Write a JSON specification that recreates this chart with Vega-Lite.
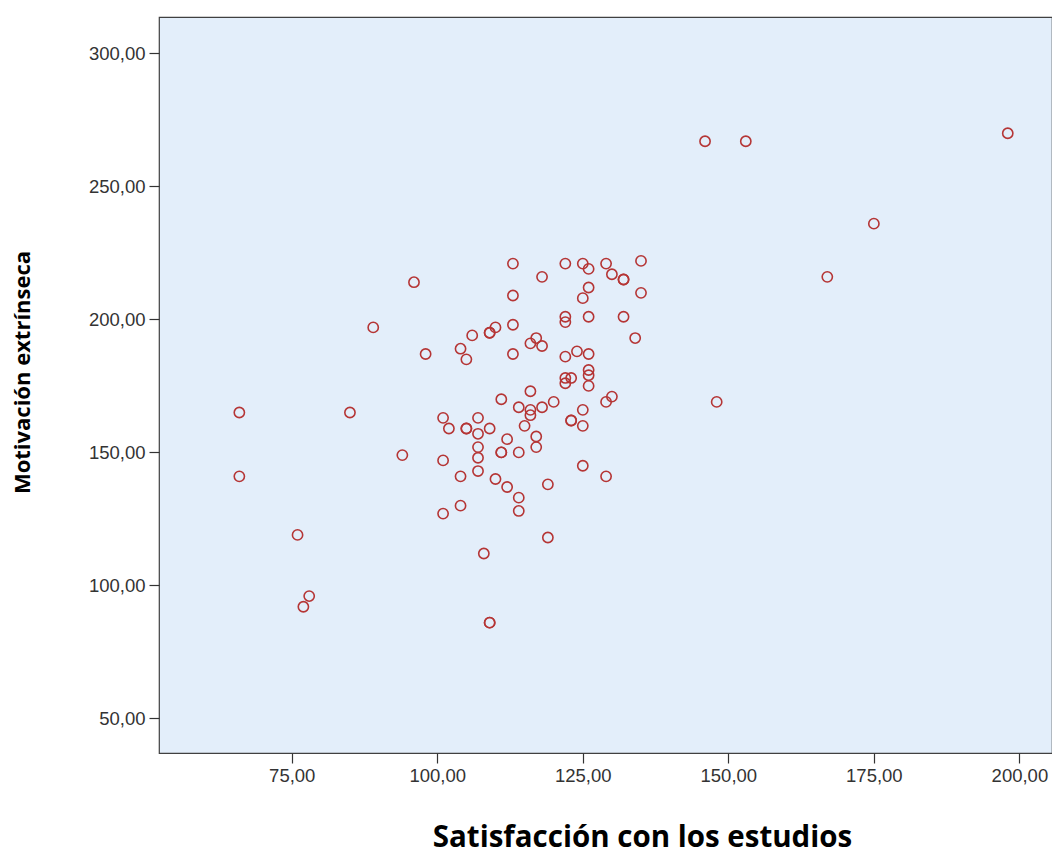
{
  "$schema": "https://vega.github.io/schema/vega-lite/v6.json",
  "autosize": {"type": "none"},
  "padding": {"left": 159, "top": 17, "right": 0, "bottom": 102},
  "width": 893,
  "height": 736,
  "background": "white",
  "config": {
    "view": {"fill": "#E3EEFA", "stroke": "#404040", "strokeWidth": 1.2},
    "axis": {
      "grid": false,
      "domain": false,
      "labelFont": "Liberation Sans",
      "labelFontSize": 18.5,
      "labelColor": "#333333",
      "tickColor": "#333333",
      "tickSize": 10,
      "tickWidth": 1.2,
      "titleFont": "Open Sans",
      "titleFontWeight": "bold",
      "titleColor": "#000000"
    }
  },
  "data": {
    "values": [
      {"sat": 66, "mot": 165}, {"sat": 66, "mot": 141}, {"sat": 76, "mot": 119}, {"sat": 78, "mot": 96},
      {"sat": 77, "mot": 92}, {"sat": 85, "mot": 165}, {"sat": 89, "mot": 197}, {"sat": 94, "mot": 149},
      {"sat": 96, "mot": 214}, {"sat": 98, "mot": 187},
      {"sat": 113, "mot": 221}, {"sat": 118, "mot": 216}, {"sat": 122, "mot": 221}, {"sat": 125, "mot": 221},
      {"sat": 126, "mot": 219}, {"sat": 129, "mot": 221}, {"sat": 130, "mot": 217}, {"sat": 132, "mot": 215},
      {"sat": 132, "mot": 215}, {"sat": 135, "mot": 222}, {"sat": 135, "mot": 210}, {"sat": 126, "mot": 212},
      {"sat": 125, "mot": 208}, {"sat": 113, "mot": 209}, {"sat": 122, "mot": 201}, {"sat": 122, "mot": 199},
      {"sat": 126, "mot": 201}, {"sat": 132, "mot": 201}, {"sat": 134, "mot": 193}, {"sat": 113, "mot": 198},
      {"sat": 110, "mot": 197}, {"sat": 109, "mot": 195}, {"sat": 109, "mot": 195}, {"sat": 106, "mot": 194},
      {"sat": 104, "mot": 189}, {"sat": 105, "mot": 185}, {"sat": 113, "mot": 187}, {"sat": 117, "mot": 193},
      {"sat": 116, "mot": 191}, {"sat": 118, "mot": 190}, {"sat": 122, "mot": 186}, {"sat": 124, "mot": 188},
      {"sat": 126, "mot": 187}, {"sat": 126, "mot": 181}, {"sat": 126, "mot": 179}, {"sat": 126, "mot": 175},
      {"sat": 122, "mot": 178}, {"sat": 123, "mot": 178}, {"sat": 122, "mot": 176}, {"sat": 116, "mot": 173},
      {"sat": 111, "mot": 170}, {"sat": 120, "mot": 169}, {"sat": 114, "mot": 167}, {"sat": 116, "mot": 166},
      {"sat": 116, "mot": 164}, {"sat": 118, "mot": 167}, {"sat": 125, "mot": 166}, {"sat": 129, "mot": 169},
      {"sat": 130, "mot": 171}, {"sat": 123, "mot": 162}, {"sat": 123, "mot": 162}, {"sat": 125, "mot": 160},
      {"sat": 115, "mot": 160}, {"sat": 101, "mot": 163}, {"sat": 102, "mot": 159}, {"sat": 105, "mot": 159},
      {"sat": 105, "mot": 159}, {"sat": 107, "mot": 163}, {"sat": 107, "mot": 157}, {"sat": 109, "mot": 159},
      {"sat": 112, "mot": 155}, {"sat": 117, "mot": 156},
      {"sat": 101, "mot": 147}, {"sat": 104, "mot": 141}, {"sat": 104, "mot": 130}, {"sat": 101, "mot": 127},
      {"sat": 107, "mot": 152}, {"sat": 107, "mot": 148}, {"sat": 107, "mot": 143}, {"sat": 110, "mot": 140},
      {"sat": 112, "mot": 137}, {"sat": 111, "mot": 150}, {"sat": 111, "mot": 150}, {"sat": 114, "mot": 150},
      {"sat": 114, "mot": 133}, {"sat": 114, "mot": 128}, {"sat": 117, "mot": 152}, {"sat": 119, "mot": 138},
      {"sat": 119, "mot": 118}, {"sat": 108, "mot": 112}, {"sat": 109, "mot": 86}, {"sat": 109, "mot": 86},
      {"sat": 125, "mot": 145}, {"sat": 129, "mot": 141},
      {"sat": 146, "mot": 267}, {"sat": 153, "mot": 267}, {"sat": 198, "mot": 270}, {"sat": 175, "mot": 236},
      {"sat": 167, "mot": 216}, {"sat": 148, "mot": 169}
    ]
  },
  "mark": {"type": "point", "shape": "circle", "filled": false, "stroke": "#B53535", "strokeWidth": 1.6, "size": 105, "opacity": 1},
  "encoding": {
    "x": {
      "field": "sat",
      "type": "quantitative",
      "scale": {"domain": [52.2, 205.6], "nice": false, "zero": false},
      "axis": {
        "values": [75, 100, 125, 150, 175, 200],
        "labelExpr": "replace(format(datum.value, '.2f'), '.', ',')",
        "labelPadding": 3,
        "title": "Satisfacción con los estudios",
        "titleFontSize": 29.5,
        "titleX": 483,
        "titleY": 93,
        "titleBaseline": "alphabetic",
        "titleAnchor": null
      }
    },
    "y": {
      "field": "mot",
      "type": "quantitative",
      "scale": {"domain": [37, 313.7], "nice": false, "zero": false},
      "axis": {
        "values": [50, 100, 150, 200, 250, 300],
        "labelExpr": "replace(format(datum.value, '.2f'), '.', ',')",
        "labelPadding": 4,
        "title": "Motivación extrínseca",
        "titleFontSize": 22,
        "titleAngle": 270,
        "titleAlign": "center",
        "titleBaseline": "middle",
        "titleX": -137,
        "titleY": 355
      }
    }
  }
}
